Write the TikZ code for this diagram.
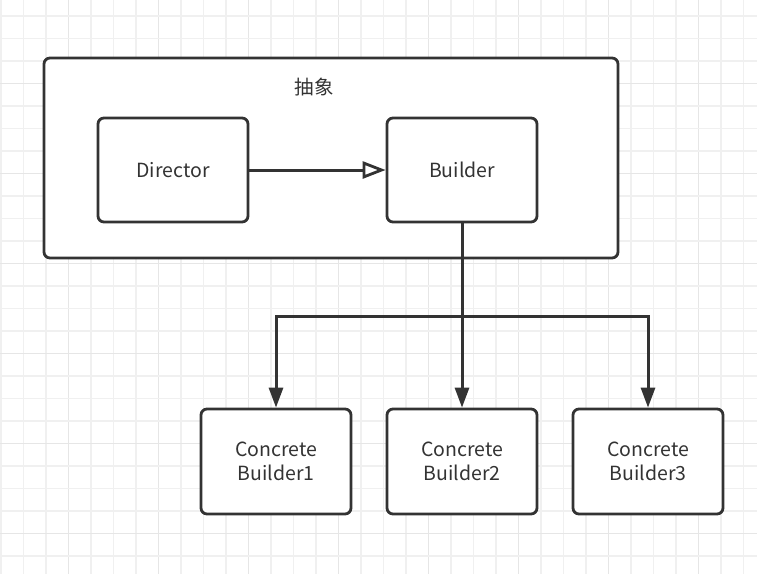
\documentclass[tikz,border=0pt]{standalone}
\usepackage{fontspec}
\setmainfont{Noto Sans CJK SC}
\usetikzlibrary{arrows.meta}
\definecolor{ink}{HTML}{333333}
\definecolor{gridminor}{HTML}{F0F0F0}
\definecolor{gridmajor}{HTML}{E6E6E6}
\tikzset{
  box/.style={draw=ink, line width=2.8pt, rounded corners=6pt, fill=white, inner sep=0pt},
  lbl/.style={font=\fontsize{19.5}{24}\selectfont, text=ink, align=center},
  conn/.style={draw=ink, line width=3pt},
  filltip/.style={-{Triangle[length=20pt,width=14pt,fill=ink]}},
  opentip/.style={-{Triangle[open,length=23pt,width=17pt,line width=2.8pt]}}
}
\begin{document}
\begin{tikzpicture}[x=1pt,y=-1pt]
\useasboundingbox (0,0) rectangle (757,574);
\fill[white] (0,0) rectangle (757,574);
% grid
\foreach \i in {0,...,34} {
  \pgfmathsetmacro\xx{1+22.5*\i}
  \pgfmathtruncatemacro\m{mod(\i+1,4)}
  \ifnum\m=0 \draw[gridmajor, line width=1.2pt] (\xx,0) -- (\xx,574);
  \else \draw[gridminor, line width=1.2pt] (\xx,0) -- (\xx,574); \fi
}
\foreach \j in {1,...,26} {
  \pgfmathsetmacro\yy{-6.5+22.5*\j}
  \pgfmathtruncatemacro\m{mod(\j,4)}
  \ifnum\m=0 \draw[gridmajor, line width=1.2pt] (0,\yy) -- (757,\yy);
  \else \draw[gridminor, line width=1.2pt] (0,\yy) -- (757,\yy); \fi
}
% outer container
\draw[box] (44,58) rectangle (618,258);
\node[lbl] (title) at (314,87) {抽象};
% nodes
\node[box, minimum width=150pt, minimum height=104pt] (dir) at (173,170) {};
\node[lbl] at (dir.center) {Director};
\node[box, minimum width=150pt, minimum height=104pt] (bld) at (462,170) {};
\node[lbl] at (bld.center) {Builder};
\node[box, minimum width=150pt, minimum height=105pt] (c1) at (276,461.5) {};
\node[lbl] at (c1.center) {Concrete\\Builder1};
\node[box, minimum width=150pt, minimum height=105pt] (c2) at (462,461.5) {};
\node[lbl] at (c2.center) {Concrete\\Builder2};
\node[box, minimum width=150pt, minimum height=105pt] (c3) at (648,461.5) {};
\node[lbl] at (c3.center) {Concrete\\Builder3};
% connectors
\coordinate (bus) at (462,316);
\draw[conn, opentip] (dir.east) -- (bld.west);
\draw[conn, filltip] (bld.south) -- (c2.north);
\draw[conn, filltip] (bus) -| (c1.north);
\draw[conn, filltip] (bus) -| (c3.north);
\end{tikzpicture}
\end{document}
